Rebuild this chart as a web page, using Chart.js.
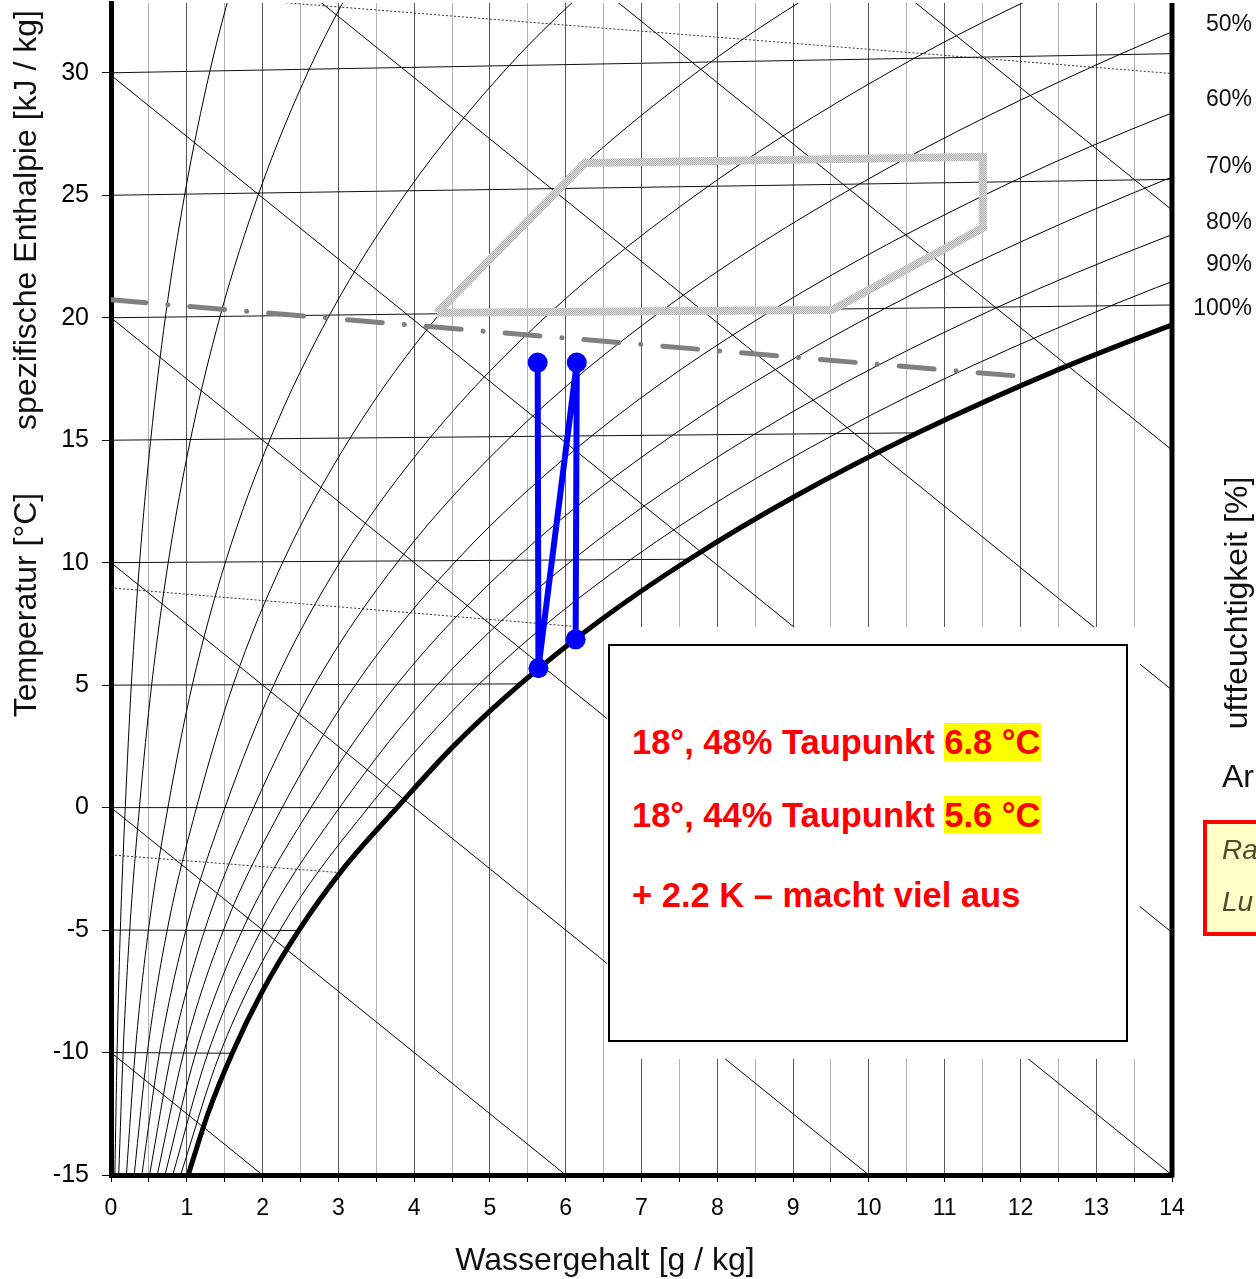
<!DOCTYPE html>
<html lang="de">
<head>
<meta charset="UTF-8">
<title>h,x-Diagramm Taupunkt</title>
<script src="https://cdn.jsdelivr.net/npm/chart.js"></script>
<style>
    html, body { margin: 0; padding: 0; background: #fff; overflow: hidden; }
    body { width: 1256px; height: 1279px; position: relative; font-family: "Liberation Sans", Arial, sans-serif; color: #111; }
    #chart { position: absolute; left: 0; top: 0; }
    .txt { position: absolute; white-space: nowrap; line-height: 1; }
    .mid { transform: translate(-50%, -50%); }
    .vmid { transform: translateY(-50%); }
    .rot { transform: translate(-50%, -50%) rotate(-90deg); }
    .title { font-size: 32px; }
    .rh { font-size: 23px; right: 4px; transform: translateY(-50%); }
    #mask { position: absolute; left: 607px; top: 627px; width: 533px; height: 432px; background: #fff; }
    #box { position: absolute; left: 608px; top: 644px; width: 520px; height: 398px; border: 2px solid #000; box-sizing: border-box; background: #fff; }
    .note { position: absolute; left: 632px; font-size: 34.5px; font-weight: bold; color: #ff0000; line-height: 39px; white-space: nowrap; }
    .hl { background: #ffff00; }
    #redbox { position: absolute; left: 1203px; top: 820px; width: 90px; height: 116px; border: 4px solid #ff0000; background: #ffffc8; box-sizing: border-box; }
    .it { font-size: 28px; font-style: italic; color: #4d4d2e; left: 1222px; }
</style>
</head>
<body>
<canvas id="chart" width="1256" height="1279"></canvas>

<div class="txt rot title" style="left:25px; top:220px;">spezifische Enthalpie [kJ / kg]</div>
<div class="txt rot title" style="left:25px; top:605px;">Temperatur [°C]</div>
<div class="txt mid title" style="left:605px; top:1259px;">Wassergehalt [g / kg]</div>

<div class="txt rh" style="top:23px;">50%</div>
<div class="txt rh" style="top:98px;">60%</div>
<div class="txt rh" style="top:165px;">70%</div>
<div class="txt rh" style="top:221px;">80%</div>
<div class="txt rh" style="top:263px;">90%</div>
<div class="txt rh" style="top:307px;">100%</div>

<div class="txt rot title" style="left:1236px; top:603px;">uftfeuchtigkeit [%]</div>
<div class="txt vmid title" style="left:1222px; top:776px;">Ar</div>
<div id="redbox"></div>
<div class="txt vmid it" style="top:850px;">Ra</div>
<div class="txt vmid it" style="top:902px;">Lu</div>

<div id="mask"></div>
<div id="box"></div>
<div class="note" style="top:723px;">18°, 48% Taupunkt <span class="hl">6.8 °C</span></div>
<div class="note" style="top:796px;">18°, 44% Taupunkt <span class="hl">5.6 °C</span></div>
<div class="note" style="top:876px;">+ 2.2 K – macht viel aus</div>

<script>
    // axes
    const xTickValues = [0, 0.5, 1, 1.5, 2, 2.5, 3, 3.5, 4, 4.5, 5, 5.5, 6, 6.5, 7, 7.5, 8, 8.5, 9, 9.5, 10, 10.5, 11, 11.5, 12, 12.5, 13, 13.5, 14];
    const yTickValues = [-15, -10, -5, 0, 5, 10, 15, 20, 25, 30];

    // measured path: 18 deg at 44 % and 48 %, down to the dew points
    const pathX = [5.63, 5.64, 6.146, 6.131];
    const pathY = [18.17, 5.69, 18.17, 6.87];

    // comfort zone outline
    const zoneX = [4.30, 6.254, 11.505, 11.505, 9.513, 4.30];
    const zoneY = [20.20, 26.32, 26.57, 23.67, 20.32, 20.20];

    // saturation curve (100 %)
    const satX = [1.016, 1.275, 1.600, 1.992, 2.476, 3.060, 3.775, 4.522, 5.403, 6.430, 7.631, 9.027, 10.646, 12.524, 14.700];
    const satY = [-15.03, -12.53, -10.03, -7.53, -5.02, -2.51, 0, 2.52, 5.05, 7.59, 10.14, 12.71, 15.30, 17.91, 20.54];

    // relative humidity curves, crossing points with the isotherms
    const rhLevels = [5, 10, 20, 30, 40, 50, 60, 70, 80, 90];
    const rhX = [
        [0.051, 0.080, 0.123, 0.188, 0.268, 0.377, 0.524, 0.718, 0.974, 1.305, 1.730],
        [0.102, 0.160, 0.247, 0.375, 0.536, 0.755, 1.049, 1.439, 1.951, 2.616, 3.471],
        [0.203, 0.319, 0.494, 0.751, 1.073, 1.511, 2.101, 2.884, 3.914, 5.253, 6.981],
        [0.305, 0.479, 0.741, 1.128, 1.611, 2.270, 3.156, 4.336, 5.889, 7.913, 10.531],
        [0.406, 0.639, 0.988, 1.504, 2.149, 3.030, 4.216, 5.795, 7.877, 10.596, 14.120],
        [0.508, 0.799, 1.235, 1.882, 2.689, 3.792, 5.279, 7.261, 9.877, 13.301, 17.751],
        [0.609, 0.959, 1.483, 2.259, 3.230, 4.556, 6.345, 8.733, 11.890, 16.030],
        [0.711, 1.119, 1.731, 2.638, 3.771, 5.322, 7.415, 10.213, 13.916, 18.783],
        [0.813, 1.279, 1.979, 3.016, 4.314, 6.089, 8.489, 11.699, 15.955],
        [0.915, 1.439, 2.227, 3.395, 4.857, 6.859, 9.566, 13.193, 18.008]
    ];
    const rhY = [
        [-15, -10, -5, 0, 5, 10, 15.01, 20.03, 25.05, 30.07, 35.11],
        [-15, -10, -5, 0, 5, 10.01, 15.03, 20.05, 25.09, 30.15, 35.22],
        [-15.01, -10.01, -5, 0, 5.01, 10.03, 15.06, 20.11, 25.18, 30.29, 35.45],
        [-15.01, -10.01, -5.01, 0, 5.01, 10.04, 15.09, 20.16, 25.27, 30.44, 35.68],
        [-15.01, -10.01, -5.01, 0, 5.02, 10.06, 15.12, 20.21, 25.36, 30.59, 35.91],
        [-15.01, -10.01, -5.01, 0, 5.02, 10.07, 15.15, 20.27, 25.46, 30.74, 36.15],
        [-15.02, -10.02, -5.01, 0, 5.03, 10.08, 15.18, 20.32, 25.55, 30.89],
        [-15.02, -10.02, -5.02, 0, 5.03, 10.10, 15.21, 20.38, 25.64, 31.04],
        [-15.02, -10.02, -5.02, 0, 5.04, 10.11, 15.24, 20.43, 25.74],
        [-15.03, -10.03, -5.02, 0, 5.04, 10.13, 15.27, 20.49, 25.83]
    ];

    // isotherms, from x = 0 to the saturation curve or the right edge
    const isoT = [-10, -5, 0, 5, 10, 15, 20, 25, 30];
    const isoEndX = [1.600, 2.476, 3.775, 5.403, 7.631, 10.646, 14, 14, 14];
    const isoEndY = [-10.03, -5.02, 0, 5.05, 10.14, 15.30, 20.52, 25.65, 30.78];

    // enthalpy lines (start at x = 0, end at x = 14)
    const enthStartY = [-10, 0, 10, 20, 29.9, 39.8, 49.6, 59.4];
    const enthEndY = [-45, -35, -25, -15, -5.1, 4.8, 14.6, 24.4];

    // density lines (dotted), one highlighted (grey dash-dot)
    const densX = [[0, 14], [0, 6.1], [0, 3.0]];
    const densY = [[33.43, 29.97], [8.97, 7.4], [-1.93, -2.65]];
    const markX = [0, 12.12];
    const markY = [20.73, 17.58];

    function pts(xs, ys) {
        return xs.map((x, i) => ({ x: x, y: ys[i] }));
    }

    // checkered grey for the comfort zone outline
    const pc = document.createElement('canvas');
    pc.width = 2; pc.height = 2;
    const pctx = pc.getContext('2d');
    pctx.fillStyle = '#dedede'; pctx.fillRect(0, 0, 2, 2);
    pctx.fillStyle = '#b0b0b0'; pctx.fillRect(0, 0, 1, 1); pctx.fillRect(1, 1, 1, 1);
    const ctx = document.getElementById('chart').getContext('2d');
    const checker = ctx.createPattern(pc, 'repeat');

    const datasets = [];
    datasets.push({ data: pts(pathX, pathY), borderColor: '#0000ff', borderWidth: 6, pointRadius: 10, pointBackgroundColor: '#0000ff', pointBorderWidth: 0, tension: 0 });
    datasets.push({ data: pts(zoneX, zoneY), borderColor: checker, borderWidth: 8, borderJoinStyle: 'miter', tension: 0 });
    datasets.push({ data: pts(markX, markY), borderColor: '#808080', borderWidth: 5, borderCapStyle: 'round', borderDash: [35, 22, 0.1, 22], tension: 0 });
    datasets.push({ data: pts(satX, satY), borderColor: '#000', borderWidth: 5, cubicInterpolationMode: 'monotone' });
    rhLevels.forEach((lvl, i) => {
        datasets.push({ label: lvl + ' %', data: pts(rhX[i], rhY[i]), borderColor: '#000', borderWidth: 1, cubicInterpolationMode: 'monotone' });
    });
    isoT.forEach((t, i) => {
        datasets.push({ data: [{ x: 0, y: t }, { x: isoEndX[i], y: isoEndY[i] }], borderColor: '#111', borderWidth: 1, tension: 0 });
    });
    enthStartY.forEach((h, i) => {
        datasets.push({ data: [{ x: 0, y: h }, { x: 14, y: enthEndY[i] }], borderColor: '#000', borderWidth: 1, tension: 0 });
    });
    densX.forEach((xs, i) => {
        datasets.push({ data: pts(xs, densY[i]), borderColor: '#333', borderWidth: 1, borderDash: [2, 2], tension: 0 });
    });
    datasets.forEach(d => { d.showLine = true; d.fill = false; if (d.pointRadius === undefined) d.pointRadius = 0; });

    const rightBorder = {
        id: 'rightBorder',
        afterDraw(chart) {
            const a = chart.chartArea;
            const c = chart.ctx;
            c.save();
            c.fillStyle = '#000';
            c.fillRect(a.right - 2.5, a.top, 5, a.bottom - a.top + 2.5);
            c.restore();
        }
    };

    Chart.defaults.font.family = "'Liberation Sans', Arial, sans-serif";

    new Chart(ctx, {
        type: 'scatter',
        data: { datasets: datasets },
        options: {
            responsive: false,
            animation: false,
            devicePixelRatio: 1,
            events: [],
            layout: { autoPadding: false, padding: { left: 0, top: 3, right: 84, bottom: 0 } },
            plugins: { legend: { display: false }, tooltip: { enabled: false } },
            scales: {
                x: {
                    type: 'linear',
                    min: 0,
                    max: 14,
                    afterFit: s => { s.height = 104; s.paddingLeft = 0; s.paddingRight = 0; },
                    afterBuildTicks: s => { s.ticks = xTickValues.map(v => ({ value: v })); },
                    ticks: {
                        autoSkip: false,
                        maxRotation: 0,
                        color: '#000',
                        padding: 13,
                        font: { size: 23 },
                        callback: v => Number.isInteger(v) ? v : ''
                    },
                    grid: {
                        color: c => (c.tick && Number.isInteger(c.tick.value)) ? '#555' : '#b4b4b4',
                        lineWidth: 1,
                        tickLength: 7,
                        tickColor: '#000'
                    },
                    border: { color: '#000', width: 5 }
                },
                y: {
                    type: 'linear',
                    min: -15,
                    max: 32.85,
                    afterFit: s => { s.width = 111; s.paddingTop = 0; s.paddingBottom = 0; },
                    afterBuildTicks: s => { s.ticks = yTickValues.map(v => ({ value: v })); },
                    ticks: { color: '#000', padding: 13, font: { size: 25 } },
                    grid: { drawOnChartArea: false, drawTicks: true, tickLength: 9, tickColor: '#000' },
                    border: { color: '#000', width: 5 }
                }
            }
        },
        plugins: [rightBorder]
    });
</script>
</body>
</html>
